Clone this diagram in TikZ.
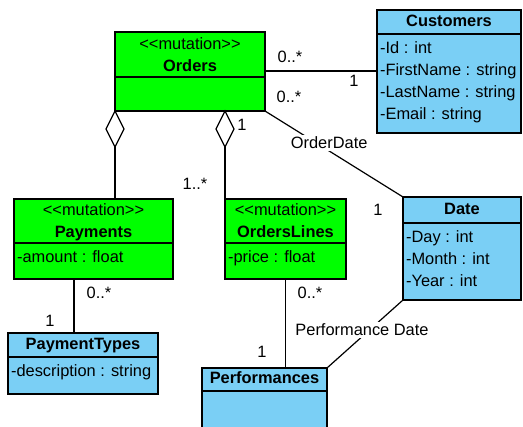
\documentclass[tikz,border=0pt]{standalone}
\usepackage{fontspec}
\setmainfont{Liberation Sans}
\usetikzlibrary{positioning,shapes.geometric}
\definecolor{umlgreen}{RGB}{0,255,0}
\definecolor{umlblue}{RGB}{122,207,245}

\begin{document}
\begin{tikzpicture}[
    x=1pt, y=-1pt,
    font=\fontsize{16.4}{22}\selectfont,
    line width=1.2pt,
    % Style for the class compartments
    box/.style={
        draw, rectangle, outer sep=0pt, inner sep=0pt
    },
    gbox/.style={box, fill=umlgreen},
    bbox/.style={box, fill=umlblue},
    % Class names, with and without stereotype
    clsname/.style={text height=12pt, text depth=3.5pt},
    stereo/.style={align=center, text height=34pt, text depth=-3pt},
    % Attribute lists
    attrs/.style={
        anchor=north west, align=left,
        inner xsep=2.5pt, inner ysep=7.5pt
    },
    % Aggregation diamond
    aggr/.style={
        draw, diamond, fill=white, anchor=north,
        minimum width=18pt, minimum height=36pt,
        inner sep=0pt, outer sep=0pt
    },
    % Multiplicities and association names
    mult/.style={inner sep=1pt},
    lbl/.style={fill=white, inner sep=2pt}
]

\path[use as bounding box, fill=white] (0,0) rectangle (523,427);

% --- Orders ---
\node[gbox, stereo, minimum width=150pt, minimum height=45pt] (ordersH) at (190,54.5)
    {{<}{<}mutation{>}{>}\\\textbf{Orders}};
\node[gbox, minimum width=150pt, minimum height=34pt, below=0pt of ordersH] (ordersB) {};

% --- Customers ---
\node[bbox, clsname, minimum width=144pt, minimum height=24pt] (custH) at (449,22) {\textbf{Customers}};
\node[bbox, minimum width=144pt, minimum height=99pt, below=0pt of custH] (custB) {};
\node[attrs] (custA) at (custB.north west)
    {-Id : int\\-FirstName : string\\-LastName : string\\-Email : string};

% --- Payments ---
\node[gbox, stereo, minimum width=159pt, minimum height=44pt] (payH) at (93.5,221)
    {{<}{<}mutation{>}{>}\\\textbf{Payments}};
\node[gbox, minimum width=159pt, minimum height=36pt, below=0pt of payH] (payB) {};
\node[attrs] (payA) at (payB.north west) {-amount : float};

% --- OrdersLines ---
\node[gbox, stereo, minimum width=121pt, minimum height=44pt] (olH) at (285.5,221)
    {{<}{<}mutation{>}{>}\\\textbf{OrdersLines}};
\node[gbox, minimum width=121pt, minimum height=36pt, below=0pt of olH] (olB) {};
\node[attrs] (olA) at (olB.north west) {-price : float};

% --- Date ---
\node[bbox, clsname, minimum width=118pt, minimum height=26pt] (dateH) at (462,210) {\textbf{Date}};
\node[bbox, minimum width=118pt, minimum height=77pt, below=0pt of dateH] (dateB) {};
\node[attrs] (dateA) at (dateB.north west) {-Day : int\\-Month : int\\-Year : int};

% --- PaymentTypes ---
\node[bbox, clsname, minimum width=150pt, minimum height=24pt] (ptH) at (83,345) {\textbf{PaymentTypes}};
\node[bbox, minimum width=150pt, minimum height=37pt, below=0pt of ptH] (ptB) {};
\node[attrs] (ptA) at (ptB.north west) {-description : string};

% --- Performances ---
\node[bbox, clsname, minimum width=125pt, minimum height=23pt] (perfH) at (264.5,379.5) {\textbf{Performances}};
\node[bbox, minimum width=125pt, minimum height=50pt, below=0pt of perfH] (perfB) {};

% --- Associations ---
\draw ([yshift=6pt]ordersH.south east) -- ([yshift=6pt]ordersH.south east -| custB.west);
\draw (ordersB.south east) -- node[lbl, pos=0.465, yshift=8pt] (odlbl) {OrderDate} (dateH.north west);
\draw (olB.south) -- (olB.south |- perfH.north);
\coordinate (payfoot) at ([xshift=60pt]payB.south west);
\draw (payfoot) -- (payfoot |- ptH.north);
\draw (dateB.south west) -- node[lbl, midway, xshift=-3pt, yshift=4pt] (pdlbl) {Performance Date} (perfH.north east);

% --- Aggregations ---
\node[aggr] (dpay) at (ordersB.south west) {};
\draw (dpay.south) -- (dpay.south |- payH.north);
\node[aggr] (dlines) at (olH.north west |- ordersB.south) {};
\draw (dlines.south) -- (olH.north west);

% --- Multiplicities ---
\node[mult] (m1) at (290,57) {0..*};
\node[mult] (m2) at (354,81) {1};
\node[mult] (m3) at (289,97) {0..*};
\node[mult] (m4) at (378,210) {1};
\node[mult] (m5) at (242,125) {1};
\node[mult] (m6) at (195,184) {1..*};
\node[mult] (m7) at (99,293) {0..*};
\node[mult] (m8) at (50,321) {1};
\node[mult] (m9) at (310,293) {0..*};
\node[mult] (m10) at (262,352) {1};

\end{tikzpicture}
\end{document}
